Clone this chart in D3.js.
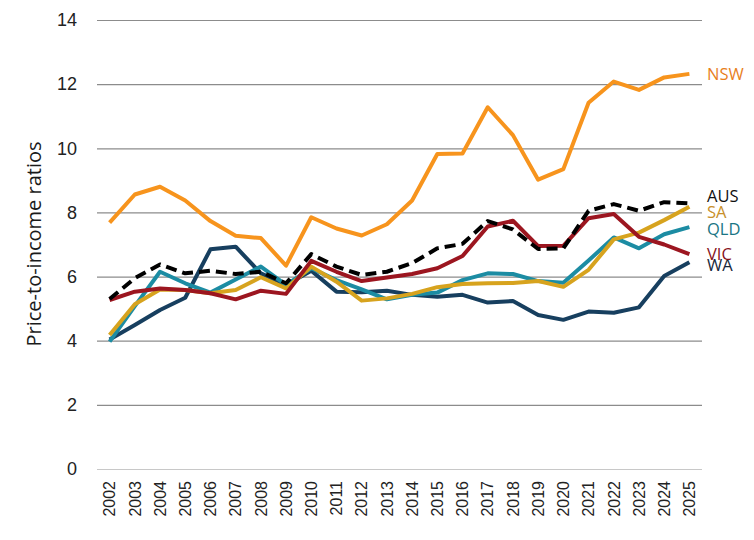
<!DOCTYPE html>
<html>
<head>
    <meta charset="utf-8">
    <title>Price-to-income ratios</title>
    <script src="https://d3js.org/d3.v7.min.js"></script>
    <style>
        body { margin: 0; background: #fff; }
    </style>
</head>
<body>
    <script>
        var years = ["2002", "2003", "2004", "2005", "2006", "2007", "2008", "2009", "2010", "2011", "2012", "2013",
            "2014", "2015", "2016", "2017", "2018", "2019", "2020", "2021", "2022", "2023", "2024", "2025"];
        var yTicks = [0, 2, 4, 6, 8, 10, 12, 14];

        var nsw = [7.68, 8.56, 8.8, 8.37, 7.73, 7.27, 7.2, 6.34, 7.85, 7.5, 7.28, 7.63,
            8.37, 9.82, 9.84, 11.28, 10.41, 9.02, 9.35, 11.42, 12.08, 11.82, 12.21, 12.32];
        var aus = [5.3, 5.95, 6.38, 6.1, 6.18, 6.08, 6.15, 5.79, 6.7, 6.31, 6.05, 6.15,
            6.42, 6.88, 7.02, 7.73, 7.47, 6.86, 6.88, 8.05, 8.26, 8.05, 8.32, 8.28];
        var sa = [4.18, 5.14, 5.6, 5.58, 5.48, 5.58, 5.98, 5.63, 6.31, 5.84, 5.25, 5.32,
            5.46, 5.67, 5.77, 5.79, 5.8, 5.86, 5.68, 6.21, 7.16, 7.37, 7.76, 8.18];
        var qld = [3.97, 5.08, 6.15, 5.79, 5.5, 5.91, 6.31, 5.74, 6.26, 5.89, 5.6, 5.29,
            5.43, 5.5, 5.89, 6.1, 6.08, 5.86, 5.81, 6.5, 7.22, 6.88, 7.32, 7.54];
        var vic = [5.27, 5.53, 5.63, 5.58, 5.48, 5.29, 5.56, 5.46, 6.49, 6.15, 5.86, 5.97,
            6.08, 6.26, 6.64, 7.56, 7.74, 6.95, 6.96, 7.82, 7.95, 7.24, 7.0, 6.7];
        var wa = [4.04, 4.49, 4.96, 5.34, 6.85, 6.93, 6.1, 5.74, 6.18, 5.53, 5.51, 5.56,
            5.43, 5.37, 5.43, 5.19, 5.24, 4.8, 4.65, 4.91, 4.87, 5.04, 6.02, 6.45];

        // draw order: back to front
        var series = [
            { name: "NSW", values: nsw, color: "#f7941d", label: "#e8801c", labelY: 74, dash: null },
            { name: "WA", values: wa, color: "#173f5f", label: "#16283a", labelY: 265, dash: null },
            { name: "QLD", values: qld, color: "#1c8ca3", label: "#1a7584", labelY: 229, dash: null },
            { name: "SA", values: sa, color: "#d7a31e", label: "#c8902a", labelY: 212, dash: null },
            { name: "VIC", values: vic, color: "#9c1620", label: "#86121a", labelY: 254, dash: null },
            { name: "AUS", values: aus, color: "#000000", label: "#111111", labelY: 196, dash: "11,6" }
        ];

        var width = 754;
        var height = 540;
        var plot = { left: 97, right: 702, top: 20, bottom: 469 };

        var svg = d3.select("body").append("svg")
            .attr("width", width)
            .attr("height", height);

        var x = d3.scaleBand()
            .domain(years)
            .range([plot.left, plot.right]);

        var y = d3.scaleLinear()
            .domain([0, 14])
            .range([plot.bottom, plot.top]);

        // y axis + gridlines
        var yAxis = svg.append("g")
            .attr("transform", "translate(" + plot.left + ",0)")
            .call(d3.axisLeft(y).tickValues(yTicks).tickSize(-(plot.right - plot.left)).tickPadding(20));
        yAxis.select(".domain").remove();
        yAxis.selectAll(".tick line")
            .attr("stroke", function (d) { return d == 0 ? "#c8c8c8" : "#8c8c8c"; })
            .attr("stroke-width", 1.2);
        yAxis.selectAll(".tick text")
            .attr("font-family", "Liberation Sans, Arial, sans-serif")
            .attr("font-size", 18)
            .attr("fill", "#222");

        // x axis labels
        var xAxis = svg.append("g")
            .attr("transform", "translate(0," + plot.bottom + ")")
            .call(d3.axisBottom(x).tickSize(0));
        xAxis.select(".domain").remove();
        xAxis.selectAll(".tick text")
            .attr("font-family", "Liberation Sans, Arial, sans-serif")
            .attr("font-size", 16)
            .attr("fill", "#222")
            .attr("text-anchor", "end")
            .attr("transform", "rotate(-90)")
            .attr("x", -12)
            .attr("y", 0)
            .attr("dy", "0.36em");

        // axis title
        svg.append("text")
            .attr("transform", "translate(41,244) rotate(-90)")
            .attr("text-anchor", "middle")
            .attr("font-family", "Open Sans, sans-serif")
            .attr("font-size", 20)
            .attr("fill", "#1a1a1a")
            .text("Price-to-income ratios");

        var line = d3.line()
            .x(function (d, i) { return x(years[i]) + x.bandwidth() / 2; })
            .y(function (d) { return y(d); });

        svg.selectAll("path.series")
            .data(series)
            .enter()
            .append("path")
            .attr("class", "series")
            .attr("d", function (d) { return line(d.values); })
            .attr("fill", "none")
            .attr("stroke", function (d) { return d.color; })
            .attr("stroke-width", 4)
            .attr("stroke-linejoin", "round")
            .attr("stroke-dasharray", function (d) { return d.dash; });

        // end labels
        svg.selectAll("text.lbl")
            .data(series)
            .enter()
            .append("text")
            .attr("class", "lbl")
            .attr("x", 707)
            .attr("y", function (d) { return d.labelY; })
            .attr("dy", "0.36em")
            .attr("font-family", "Open Sans, sans-serif")
            .attr("font-size", 16.5)
            .attr("fill", function (d) { return d.label; })
            .text(function (d) { return d.name; });
    </script>
</body>
</html>
